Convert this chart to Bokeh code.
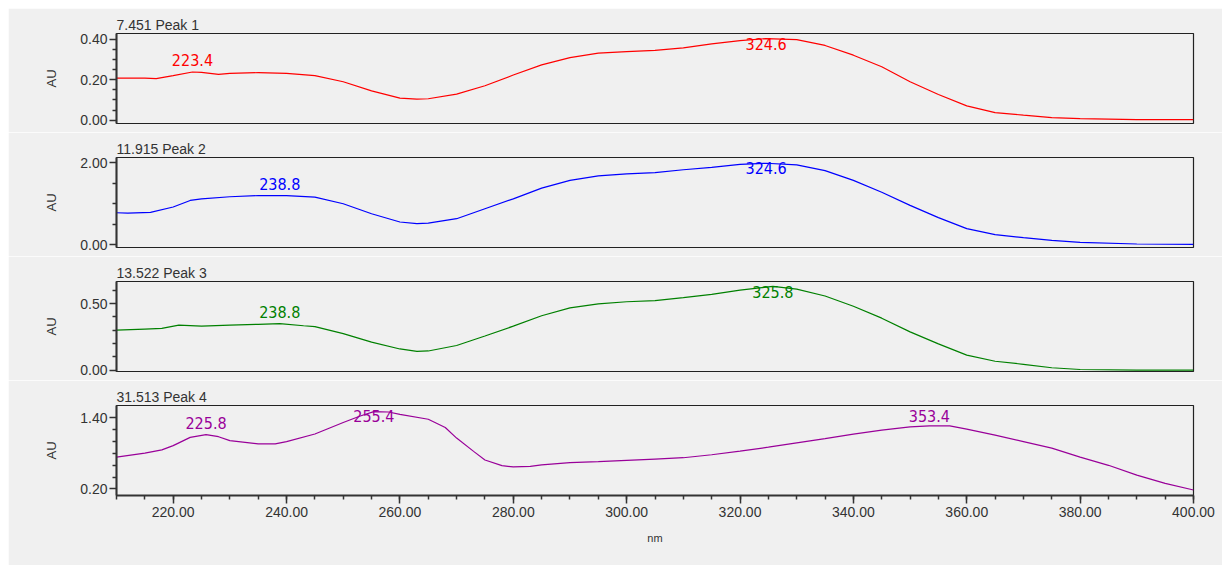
import numpy as np
from bokeh.plotting import figure
from bokeh.layouts import column
from bokeh.models import Range1d, FixedTicker, NumeralTickFormatter
from bokeh.core.properties import value
from bokeh.embed import file_html
from bokeh.resources import INLINE

# ---------------- data ----------------
titles = ["7.451 Peak 1", "11.915 Peak 2", "13.522 Peak 3", "31.513 Peak 4"]
colors = ["#ff0000", "#0000ff", "#008000", "#990099"]

wl1 = [210, 215, 217, 220, 223.4, 225, 228, 230, 235, 240, 245, 250, 255, 260, 263, 265, 270,
       275, 280, 285, 290, 295, 300, 305, 310, 315, 320, 324.6, 330, 335, 340, 345, 350, 355,
       360, 365, 370, 375, 380, 390, 400]
au1 = [0.208, 0.208, 0.205, 0.220, 0.238, 0.236, 0.226, 0.231, 0.235, 0.231, 0.220, 0.190,
       0.145, 0.109, 0.104, 0.106, 0.129, 0.170, 0.223, 0.273, 0.309, 0.331, 0.339, 0.345,
       0.357, 0.377, 0.393, 0.403, 0.398, 0.369, 0.321, 0.264, 0.190, 0.127, 0.071, 0.038,
       0.025, 0.013, 0.008, 0.003, 0.003]

wl2 = [210, 212, 216, 220, 223, 225, 230, 235, 240, 245, 250, 255, 260, 263, 265, 270, 275,
       280, 285, 290, 295, 300, 305, 310, 315, 320, 324.6, 330, 335, 340, 345, 350, 355, 360,
       365, 370, 375, 380, 390, 400]
au2 = [0.78, 0.77, 0.79, 0.92, 1.08, 1.12, 1.17, 1.20, 1.20, 1.16, 1.00, 0.756, 0.553, 0.512,
       0.528, 0.634, 0.878, 1.12, 1.38, 1.57, 1.68, 1.73, 1.76, 1.83, 1.89, 1.96, 1.99, 1.95,
       1.81, 1.57, 1.28, 0.96, 0.66, 0.39, 0.244, 0.17, 0.106, 0.057, 0.016, 0.008]

wl3 = [210, 215, 218, 221, 225, 230, 235, 238.8, 243, 245, 250, 255, 260, 263, 265, 270, 275,
       280, 285, 290, 295, 300, 305, 310, 315, 320, 325.8, 330, 335, 340, 345, 350, 355, 360,
       365, 370, 375, 380, 390, 400]
au3 = [0.300, 0.308, 0.313, 0.338, 0.330, 0.338, 0.344, 0.349, 0.333, 0.326, 0.274, 0.210,
       0.159, 0.141, 0.144, 0.185, 0.256, 0.330, 0.408, 0.467, 0.497, 0.513, 0.521, 0.544,
       0.569, 0.600, 0.628, 0.608, 0.556, 0.479, 0.390, 0.287, 0.197, 0.113, 0.067, 0.044,
       0.018, 0.005, 0.000, 0.000]

wl4 = [210, 215, 218, 220, 223, 225.8, 228, 230, 235, 238, 240, 245, 250, 253, 255.4, 258, 260,
       265, 268, 270, 273, 275, 278, 280, 283, 285, 290, 295, 300, 305, 310, 315, 320, 325,
       330, 335, 340, 345, 350, 353.4, 357, 360, 365, 370, 375, 380, 385, 390, 395, 400]
au4 = [0.739, 0.806, 0.860, 0.933, 1.072, 1.117, 1.083, 1.017, 0.961, 0.961, 1.000, 1.128,
       1.322, 1.433, 1.506, 1.500, 1.461, 1.378, 1.239, 1.060, 0.835, 0.690, 0.594, 0.572,
       0.583, 0.606, 0.644, 0.661, 0.683, 0.706, 0.728, 0.778, 0.839, 0.906, 0.978, 1.050,
       1.128, 1.194, 1.250, 1.267, 1.267, 1.211, 1.111, 1.000, 0.889, 0.739, 0.600, 0.433,
       0.294, 0.183]

peaks = [[223.4, 324.6], [238.8, 324.6], [238.8, 325.8], [225.8, 255.4, 353.4]]

y_ranges = [(-0.016, 0.428), (-0.07, 2.13), (-0.01, 0.665), (0.09, 1.61)]
y_major = [[0.0, 0.2, 0.4], [0.0, 2.0], [0.0, 0.5], [0.2, 1.4]]
y_minor = [[0.05, 0.1, 0.15, 0.25, 0.3, 0.35],
           [0.5, 1.0, 1.5],
           [0.1, 0.2, 0.3, 0.4, 0.6],
           [0.4, 0.6, 0.8, 1.0, 1.2]]
x_major = [220, 240, 260, 280, 300, 320, 340, 360, 380, 400]
x_minor = list(range(210, 401, 5))

series = [(wl1, au1), (wl2, au2), (wl3, au3), (wl4, au4)]

# ---------------- styling ----------------
BG = "#f0f0f0"
TXT = "#333333"
FONT = "Liberation Sans"
PEAK_FONT = "'Liberation Sans Narrow', 'DejaVu Sans Condensed', 'DejaVu Sans', sans-serif"
FRAME_H = 90

plots = []
for i in range(4):
    last = i == 3
    wl, au = series[i]
    yr = y_ranges[i]
    top_b, bot_b = 25, (70 if last else 9)
    p = figure(width=1214, height=top_b + FRAME_H + bot_b, output_backend="svg",
               toolbar_location=None, x_range=Range1d(210, 400), y_range=Range1d(*yr),
               min_border_left=108, min_border_right=29, min_border_top=top_b,
               min_border_bottom=bot_b, background_fill_color=BG, border_fill_color=BG,
               outline_line_color="#222222", outline_line_width=1.2)
    p.title.text = titles[i]
    p.title.text_font = FONT
    p.title.text_font_size = "14px"
    p.title.text_font_style = "normal"
    p.title.text_color = TXT
    p.title.align = "left"
    p.title.offset = 0
    p.title.standoff = 1

    p.xgrid.visible = False
    p.ygrid.visible = False

    ya = p.yaxis[0]
    ya.ticker = FixedTicker(ticks=y_major[i], minor_ticks=y_minor[i])
    ya.formatter = NumeralTickFormatter(format="0.00")
    ya.axis_label = "AU"
    ya.axis_label_text_font = FONT
    ya.axis_label_text_font_size = "13px"
    ya.axis_label_text_font_style = "normal"
    ya.axis_label_text_color = TXT
    ya.axis_label_standoff = 18
    ya.major_label_text_font = FONT
    ya.major_label_text_font_size = "14px"
    ya.major_label_text_color = TXT
    ya.major_label_standoff = 2
    ya.major_tick_out = 7
    ya.major_tick_in = 0
    ya.minor_tick_out = 4
    ya.minor_tick_in = 0
    ya.axis_line_width = 2
    ya.axis_line_color = TXT
    ya.major_tick_line_color = TXT
    ya.minor_tick_line_color = TXT
    ya.major_tick_line_width = 1.5
    ya.minor_tick_line_width = 1.5

    xa = p.xaxis[0]
    if last:
        xa.ticker = FixedTicker(ticks=x_major, minor_ticks=x_minor)
        xa.formatter = NumeralTickFormatter(format="0.00")
        xa.axis_label = "nm"
        xa.axis_label_text_font = FONT
        xa.axis_label_text_font_size = "11px"
        xa.axis_label_text_font_style = "normal"
        xa.axis_label_text_color = TXT
        xa.axis_label_standoff = 12
        xa.major_label_text_font = FONT
        xa.major_label_text_font_size = "14px"
        xa.major_label_text_color = TXT
        xa.major_label_standoff = 3
        xa.major_tick_out = 8
        xa.major_tick_in = 0
        xa.minor_tick_out = 4
        xa.minor_tick_in = 0
        xa.axis_line_width = 2
        xa.axis_line_color = TXT
        xa.major_tick_line_color = TXT
        xa.minor_tick_line_color = TXT
        xa.major_tick_line_width = 1.5
        xa.minor_tick_line_width = 1.5
    else:
        xa.visible = False

    p.line(wl, au, color=colors[i], line_width=1.2)

    # peak labels: bottom of the text sits just above the peak, kept inside the frame
    ppu = FRAME_H / (yr[1] - yr[0])
    pk = peaks[i]
    pv = np.interp(pk, wl, au)
    ys = [min(v + 6 / ppu, yr[1] - 16 / ppu) for v in pv]
    p.text(x=pk, y=ys, text=[f"{x:.1f}" for x in pk], text_color=colors[i],
           text_font=value(PEAK_FONT), text_font_size="16px",
           text_align="center", text_baseline="bottom")
    plots.append(p)

layout = column(*plots, spacing=0, margin=(8, 0, 0, 8))
open("out.html", "w").write(file_html(layout, INLINE))
